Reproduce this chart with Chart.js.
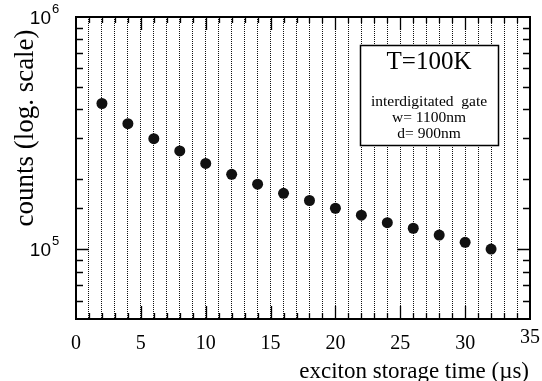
<!DOCTYPE html>
<html>
<head>
<meta charset="utf-8">
<script src="https://cdn.jsdelivr.net/npm/chart.js@4"></script>
<style>
  html, body { margin: 0; padding: 0; background: #fff; }
  #wrap { width: 542px; height: 381px; }
</style>
</head>
<body>
<div id="wrap"><canvas id="c" width="542" height="381"></canvas></div>
<script>
// storage time (us) and counts
const times = [2, 4, 6, 8, 10, 12, 14, 16, 18, 20, 22, 24, 26, 28, 30, 32]
const counts = [4.24e5, 3.47e5, 2.99e5, 2.65e5, 2.34e5, 2.10e5, 1.905e5, 1.74e5,
                1.62e5, 1.50e5, 1.40e5, 1.30e5, 1.23e5, 1.15e5, 1.07e5, 1.00e5]
const xLabels = [0, 5, 10, 15, 20, 25, 30, 35]
const yLabels = [{ v: 1e5, exp: '5' }, { v: 1e6, exp: '6' }]
const boxLines = ['interdigitated  gate', 'w= 1100nm', 'd= 900nm']

const serif = '"Liberation Serif", "Times New Roman", serif'
const sans = '"Liberation Sans", Arial, sans-serif'

const framePlugin = {
    id: 'frame',
    afterDraw(chart) {
        const ctx = chart.ctx
        const a = chart.chartArea
        const xs = chart.scales.x, ys = chart.scales.y
        ctx.save()
        ctx.strokeStyle = '#000'
        ctx.fillStyle = '#000'

        // ticks along all four sides, inward
        ctx.lineWidth = 1.3
        ctx.beginPath()
        xs.ticks.forEach(t => {
            if (t.value <= xs.min || t.value >= xs.max) return
            const px = Math.round(xs.getPixelForValue(t.value)) + 0.5
            const len = t.value % 5 === 0 ? 13 : 6
            ctx.moveTo(px, a.bottom); ctx.lineTo(px, a.bottom - len)
            ctx.moveTo(px, a.top); ctx.lineTo(px, a.top + len)
        })
        ys.ticks.forEach(t => {
            if (t.value <= ys.min || t.value >= ys.max) return
            const py = Math.round(ys.getPixelForValue(t.value)) + 0.5
            const major = Math.abs(Math.log10(t.value) - Math.round(Math.log10(t.value))) < 1e-9
            const len = major ? 13 : 7
            ctx.moveTo(a.left, py); ctx.lineTo(a.left + len, py)
            ctx.moveTo(a.right, py); ctx.lineTo(a.right - len, py)
        })
        ctx.stroke()

        // frame
        ctx.lineWidth = 2
        ctx.strokeRect(a.left, a.top, a.right - a.left, a.bottom - a.top)

        // x tick labels
        ctx.font = '20px ' + serif
        ctx.textAlign = 'center'
        ctx.textBaseline = 'middle'
        xLabels.forEach(v => {
            const px = xs.getPixelForValue(v)
            ctx.fillText(String(v), px, v === 35 ? a.bottom + 19 : a.bottom + 25)
        })

        // y tick labels 10^n
        yLabels.forEach(l => {
            const base = ys.getPixelForValue(l.v) + 7
            ctx.textBaseline = 'alphabetic'
            ctx.textAlign = 'right'
            ctx.font = '19px ' + sans
            ctx.fillText('10', 51, base)
            ctx.textAlign = 'left'
            ctx.font = '13px ' + sans
            ctx.fillText(l.exp, 52, base - 11)
        })

        // axis titles
        ctx.font = '23px ' + serif
        ctx.textAlign = 'right'
        ctx.textBaseline = 'alphabetic'
        ctx.fillText('exciton storage time (\u00b5s)', a.right - 1, 378)
        ctx.save()
        ctx.translate(33, 128)
        ctx.rotate(-Math.PI / 2)
        ctx.textAlign = 'center'
        ctx.font = '27px ' + serif
        ctx.fillText('counts (log. scale)', 0, 0)
        ctx.restore()

        // annotation box
        const bx = 360, by = 45, bw = 138, bh = 100
        ctx.fillStyle = '#fff'
        ctx.fillRect(bx, by, bw, bh)
        ctx.lineWidth = 1.5
        ctx.strokeRect(bx + 0.5, by + 0.5, bw, bh)
        ctx.fillStyle = '#000'
        ctx.textAlign = 'center'
        ctx.textBaseline = 'alphabetic'
        ctx.font = '25px ' + serif
        ctx.fillText('T=100K', bx + bw / 2, by + 24)
        ctx.font = '15.5px ' + serif
        boxLines.forEach((s, i) => ctx.fillText(s, bx + bw / 2, by + 61 + i * 16))
        ctx.restore()
    }
}

const chart = new Chart(document.getElementById('c'), {
    type: 'scatter',
    data: {
        datasets: [{
            data: times.map((t, i) => ({ x: t, y: counts[i] })),
            backgroundColor: '#111',
            borderColor: '#111',
            pointRadius: 5.5,
            pointHoverRadius: 5.5,
            borderWidth: 0
        }]
    },
    options: {
        responsive: false,
        animation: false,
        devicePixelRatio: 1,
        layout: { padding: { left: 76, top: 17, right: 12, bottom: 62 } },
        plugins: { legend: { display: false }, tooltip: { enabled: false } },
        scales: {
            x: {
                type: 'linear',
                min: 0,
                max: 35,
                ticks: { display: false, stepSize: 1, autoSkip: false, padding: 0 },
                grid: { drawTicks: false, color: '#111', lineWidth: 1 },
                border: { display: false, dash: [1, 1] }
            },
            y: {
                type: 'logarithmic',
                min: 5e4,
                max: 1e6,
                ticks: { display: false, padding: 0 },
                grid: { display: false, drawTicks: false },
                border: { display: false }
            }
        }
    },
    plugins: [framePlugin]
})
</script>
</body>
</html>
